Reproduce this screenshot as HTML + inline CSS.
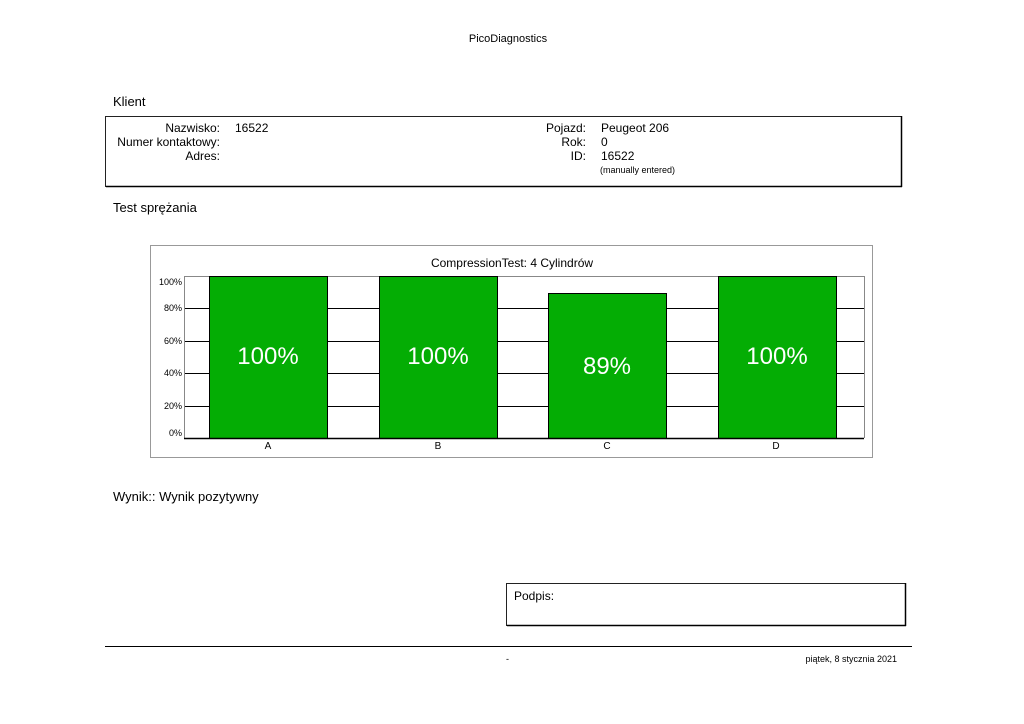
<!DOCTYPE html>
<html><head><meta charset="utf-8"><style>
body{margin:0;background:#fff;}
svg{display:block;font-family:"Liberation Sans",Arial,sans-serif;}
</style></head><body>
<svg width="1024" height="724" viewBox="0 0 1024 724">
<text x="508" y="42" font-size="11" text-anchor="middle">PicoDiagnostics</text>
<text x="113" y="106" font-size="13">Klient</text>
<rect x="105.5" y="116.5" width="796" height="70" fill="none" stroke="#222" stroke-width="1"/>
<line x1="106" y1="186.5" x2="902" y2="186.5" stroke="#000" stroke-width="1.5"/>
<line x1="901.5" y1="116" x2="901.5" y2="187" stroke="#000" stroke-width="1.5"/>
<g font-size="12">
<text x="220" y="132" text-anchor="end">Nazwisko:</text>
<text x="220" y="146" text-anchor="end">Numer kontaktowy:</text>
<text x="220" y="160" text-anchor="end">Adres:</text>
<text x="235" y="132">16522</text>
<text x="586" y="132" text-anchor="end">Pojazd:</text>
<text x="586" y="146" text-anchor="end">Rok:</text>
<text x="586" y="160" text-anchor="end">ID:</text>
<text x="601" y="132">Peugeot 206</text>
<text x="601" y="146">0</text>
<text x="601" y="160">16522</text>
</g>
<text x="600" y="173" font-size="9">(manually entered)</text>
<text x="113" y="212" font-size="13">Test sprężania</text>
<rect x="150.5" y="245.5" width="722" height="212" fill="#fff" stroke="#999" stroke-width="1"/>
<text x="512" y="267" font-size="12" text-anchor="middle">CompressionTest: 4 Cylindrów</text>
<g stroke="#000" stroke-width="1">
<line x1="184" y1="276.5" x2="864" y2="276.5" stroke="#888"/>
<line x1="184" y1="308.5" x2="864" y2="308.5"/>
<line x1="184" y1="341.5" x2="864" y2="341.5"/>
<line x1="184" y1="373.5" x2="864" y2="373.5"/>
<line x1="184" y1="406.5" x2="864" y2="406.5"/>
<line x1="864.5" y1="276" x2="864.5" y2="438" stroke="#888"/>
<line x1="184.5" y1="276" x2="184.5" y2="438" stroke="#888"/>
</g>
<g fill="#04ad04" stroke="#000" stroke-width="1">
<rect x="209.5" y="276.5" width="118" height="162"/>
<rect x="379.5" y="276.5" width="118" height="162"/>
<rect x="548.5" y="293.5" width="118" height="145"/>
<rect x="718.5" y="276.5" width="118" height="162"/>
</g>
<line x1="184" y1="438.5" x2="864" y2="438.5" stroke="#000" stroke-width="1.5"/>
<g font-size="24" fill="#fff" text-anchor="middle">
<text x="268" y="364">100%</text>
<text x="438" y="364">100%</text>
<text x="607" y="374">89%</text>
<text x="777" y="364">100%</text>
</g>
<g font-size="9" text-anchor="end">
<text x="182" y="285">100%</text>
<text x="182" y="311">80%</text>
<text x="182" y="344">60%</text>
<text x="182" y="376">40%</text>
<text x="182" y="409">20%</text>
<text x="182" y="436">0%</text>
</g>
<g font-size="10" text-anchor="middle">
<text x="268" y="449">A</text>
<text x="438" y="449">B</text>
<text x="607" y="449">C</text>
<text x="776" y="449">D</text>
</g>
<text x="113" y="501" font-size="13">Wynik:: Wynik pozytywny</text>
<rect x="506.5" y="583.5" width="399" height="42" fill="none" stroke="#222" stroke-width="1"/>
<line x1="507" y1="625.5" x2="906" y2="625.5" stroke="#000" stroke-width="1.5"/>
<line x1="905.5" y1="583" x2="905.5" y2="626" stroke="#000" stroke-width="1.5"/>
<text x="514" y="600" font-size="12">Podpis:</text>
<line x1="105" y1="646.5" x2="912" y2="646.5" stroke="#000" stroke-width="1"/>
<text x="506" y="662" font-size="9">-</text>
<text x="897" y="662" font-size="9" text-anchor="end">piątek, 8 stycznia 2021</text>
</svg>
</body></html>
